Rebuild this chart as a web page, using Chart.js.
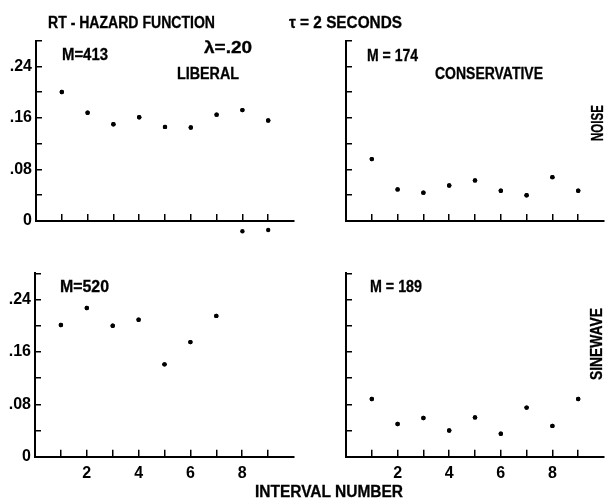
<!DOCTYPE html>
<html>
<head>
<meta charset="utf-8">
<script src="https://cdn.jsdelivr.net/npm/chart.js@4/dist/chart.umd.min.js"></script>
<style>
  html, body { margin: 0; padding: 0; background: #fff; }
  #wrap { position: relative; width: 610px; height: 502px; overflow: hidden; background: #fff; }
  #wrap canvas { position: absolute; left: 0; top: 0; }
  .lbl {
    position: absolute;
    font-family: 'Liberation Sans', Arial, sans-serif;
    font-weight: bold;
    font-size: 16px;
    line-height: 1;
    white-space: nowrap;
    color: #000;
    -webkit-text-stroke: 0.3px #000;
    transform-origin: 0 50%;
  }
</style>
</head>
<body>
<div id="wrap">
  <canvas id="noiseLib" width="610" height="502"></canvas>
  <canvas id="noiseCon" width="610" height="502"></canvas>
  <canvas id="sineLib" width="610" height="502"></canvas>
  <canvas id="sineCon" width="610" height="502"></canvas>
</div>
<script>
// Interval numbers on the x axis
const intervals = [1, 2, 3, 4, 5, 6, 7, 8, 9];

// Hazard-function estimates per interval
const noiseLiberal      = [0.200, 0.168, 0.150, 0.161, 0.146, 0.145, 0.165, 0.172, 0.156];
const noiseLiberalLow   = [null, null, null, null, null, null, null, -0.016, -0.014];
const noiseConservative = [0.096, 0.049, 0.044, 0.055, 0.063, 0.047, 0.040, 0.068, 0.047];
const sineLiberal       = [0.201, 0.227, 0.200, 0.209, 0.141, 0.175, 0.215];
const sineConservative  = [0.088, 0.050, 0.059, 0.040, 0.060, 0.035, 0.075, 0.047, 0.088];

// Axis ticks and their labels
const yTicks      = [0, 0.04, 0.08, 0.12, 0.16, 0.20, 0.24, 0.28];
const yTickLabels = ['0', '', '.08', '', '.16', '', '.24', ''];
const xTickLabels = ['', '2', '', '4', '', '6', '', '8', ''];

const FONT = "'Liberation Sans', Arial, sans-serif";
const SCALE_W = 30;   // fixed width reserved for the y scale
const SCALE_H = 30;   // fixed height reserved for the x scale

function toPoints(values) {
  const pts = [];
  values.forEach((v, i) => { if (v !== null) pts.push({ x: intervals[i], y: v }); });
  return pts;
}

// Points lying outside the plot area are skipped by the default draw,
// so draw every point element again without the area check.
const drawAllPoints = {
  id: 'drawAllPoints',
  afterDatasetsDraw(chart) {
    const ctx = chart.ctx;
    chart.data.datasets.forEach((ds, i) => {
      chart.getDatasetMeta(i).data.forEach(el => el.draw(ctx));
    });
  }
};

function panel(id, area, seriesList, showX, showY) {
  return new Chart(document.getElementById(id), {
    type: 'scatter',
    data: {
      datasets: seriesList.map(s => ({
        data: toPoints(s),
        pointRadius: 2.2,
        pointBackgroundColor: '#000',
        pointBorderWidth: 0,
        clip: false
      }))
    },
    plugins: [drawAllPoints],
    options: {
      responsive: false,
      animation: false,
      events: [],
      devicePixelRatio: 1,
      layout: {
        padding: {
          left: area.left - SCALE_W,
          right: 610 - area.right,
          top: area.top,
          bottom: 502 - area.bottom - SCALE_H
        }
      },
      plugins: { legend: { display: false }, tooltip: { enabled: false } },
      scales: {
        x: {
          type: 'linear',
          position: 'bottom',
          min: 0,
          max: 10,
          afterFit: s => { s.height = SCALE_H; },
          afterBuildTicks: s => { s.ticks = intervals.map(v => ({ value: v })); },
          grid: { drawOnChartArea: false, drawTicks: true, tickLength: -7, color: '#000', lineWidth: 1.5 },
          border: { display: true, color: '#000', width: 2 },
          ticks: {
            display: showX,
            autoSkip: false,
            maxRotation: 0,
            padding: 14,
            color: '#000',
            font: { family: FONT, size: 16, weight: 'bold' },
            callback: (v, i) => xTickLabels[i]
          }
        },
        y: {
          type: 'linear',
          min: 0,
          max: 0.28,
          afterFit: s => { s.width = SCALE_W; },
          afterBuildTicks: s => { s.ticks = yTicks.map(v => ({ value: v })); },
          grid: { drawOnChartArea: false, drawTicks: true, tickLength: -6, color: '#000', lineWidth: 1.5 },
          border: { display: true, color: '#000', width: 2 },
          ticks: {
            display: showY,
            autoSkip: false,
            padding: 10,
            color: '#000',
            font: { family: FONT, size: 16, weight: 'bold' },
            callback: (v, i) => yTickLabels[i]
          }
        }
      }
    }
  });
}

panel('noiseLib', { left: 36, right: 294, top: 40.5, bottom: 221 }, [noiseLiberal, noiseLiberalLow], false, true);
panel('noiseCon', { left: 346, right: 604, top: 40.5, bottom: 221 }, [noiseConservative], false, false);
panel('sineLib',  { left: 35, right: 294, top: 273.3, bottom: 456.7 }, [sineLiberal], true, true);
panel('sineCon',  { left: 346, right: 604, top: 273.3, bottom: 456.7 }, [sineConservative], true, false);

// Figure annotations in condensed lettering: each label is squeezed to its width
const wrap = document.getElementById('wrap');
function label(text, x, y, width, rotated) {
  const d = document.createElement('div');
  d.className = 'lbl';
  d.textContent = text;
  wrap.appendChild(d);
  const w = d.getBoundingClientRect().width;
  const h = d.getBoundingClientRect().height;
  const k = width / w;
  if (rotated) {
    // x, y is the centre of the vertical label
    d.style.transformOrigin = '50% 50%';
    d.style.left = (x - w / 2) + 'px';
    d.style.top = (y - h / 2) + 'px';
    d.style.transform = 'rotate(-90deg) scaleX(' + k + ')';
  } else {
    d.style.left = x + 'px';
    d.style.top = (y - h / 2) + 'px';
    d.style.transform = 'scaleX(' + k + ')';
  }
}
label('RT - HAZARD FUNCTION', 48, 23, 167);
label('τ = 2 SECONDS', 289, 23, 113);
label('M=413', 62, 55, 46);
label('λ=.20', 204, 48, 48);
label('LIBERAL', 177, 74, 62);
label('M = 174', 367, 56, 51);
label('CONSERVATIVE', 435, 74, 108);
label('NOISE', 598, 123, 36, true);
label('M=520', 60, 287, 49);
label('M = 189', 370, 287, 52);
label('SINEWAVE', 597, 344, 72, true);
label('INTERVAL NUMBER', 255, 492, 148);
</script>
</body>
</html>
